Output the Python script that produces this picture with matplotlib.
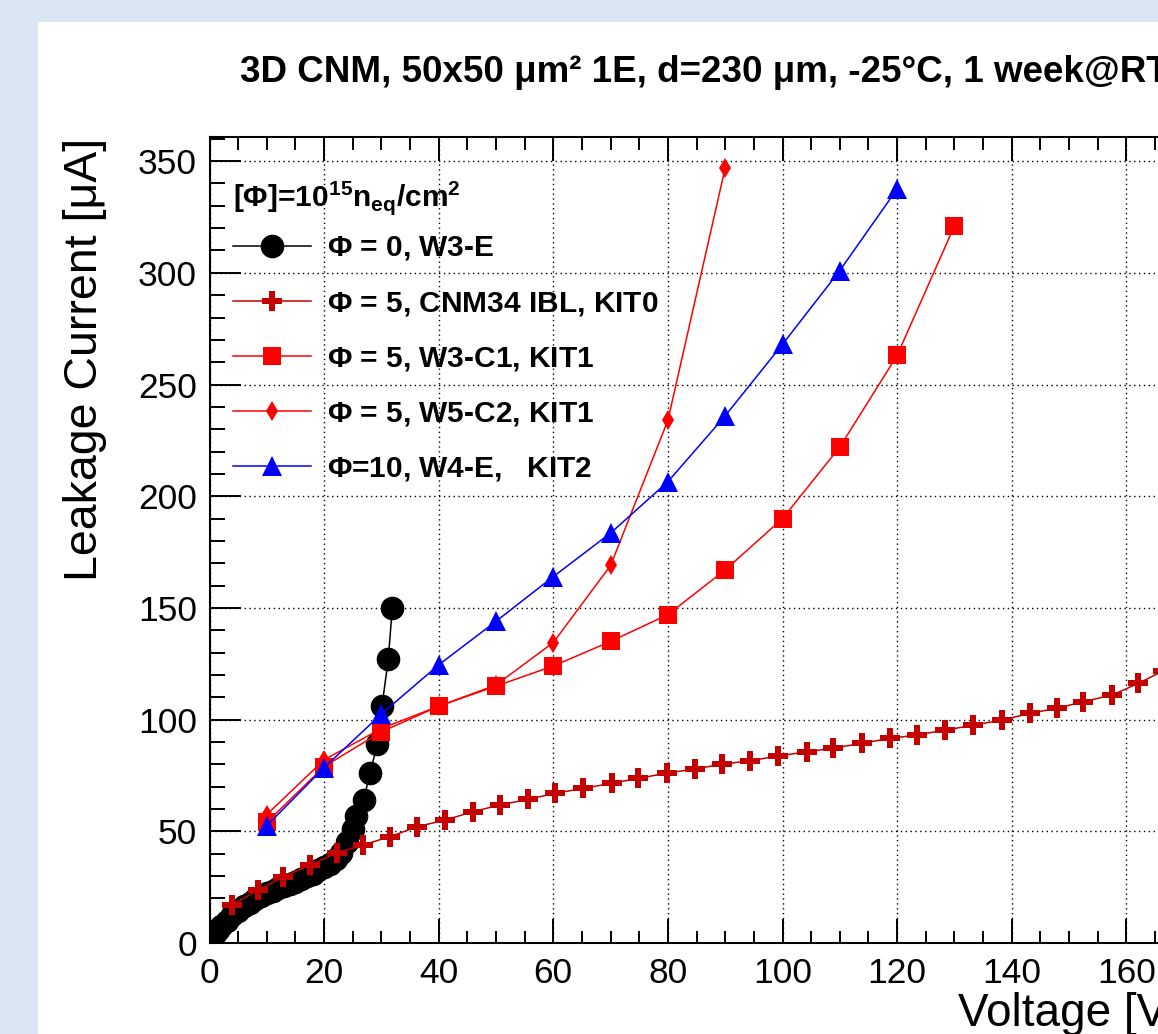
import numpy as np
import matplotlib
matplotlib.use("Agg")
import matplotlib.pyplot as plt
from matplotlib.patches import Rectangle

# Phi = 0, W3-E
v_w3e = [0, 0.5, 1, 1.5, 2, 3, 4, 5, 6, 7, 8, 9, 10, 11, 12, 13, 14, 15, 16,
         17, 18, 19, 20, 21, 22, 23, 24, 25, 25.6, 26.9, 28.0, 29.3, 30.1, 31.2, 31.9]
i_w3e = [0, 2, 4, 6, 7.5, 10, 12.5, 14.5, 16.5, 18, 19.5, 21, 22.5, 23.5, 24.5,
         25.5, 26.5, 27.5, 28.5, 30, 31, 32.5, 34, 35.5, 37.5, 40.5, 45, 51,
         57, 64, 76, 89, 106, 127, 150]

# Phi = 5, CNM34 IBL, KIT0
v_cnm34 = [3.9, 8.5, 12.9, 17.5, 22.2, 26.8, 31.5, 36.3, 41.1, 46.0, 50.7, 55.6,
           60.3, 65.2, 70.2, 74.8, 79.8, 84.7, 89.4, 94.3, 99.3, 104.2, 108.9,
           113.8, 118.8, 123.4, 128.4, 133.3, 138.3, 143.2, 147.9, 152.5, 157.5,
           162.1, 166.4]
i_cnm34 = [17.0, 23.7, 29.7, 34.9, 40.2, 43.9, 47.6, 52.1, 55.0, 58.8, 61.8, 64.3,
           67.0, 69.2, 71.5, 73.7, 76.0, 77.9, 80.0, 81.6, 83.7, 85.6, 87.2,
           89.4, 91.6, 93.1, 95.3, 97.5, 99.8, 102.8, 105.1, 108.0, 111.0,
           116.2, 121.8]

# Phi = 5, W3-C1, KIT1
v_w3c1 = [10, 20, 30, 40, 50, 60, 70, 80, 90, 100, 110, 120, 130]
i_w3c1 = [54, 79, 94.5, 106, 115, 124, 135, 147, 167, 190, 222, 263, 321]

# Phi = 5, W5-C2, KIT1
v_w5c2 = [10, 20, 30, 40, 50, 60, 70, 80, 90]
i_w5c2 = [57.5, 82, 96, 106, 115.5, 134.5, 169, 234, 347]

# Phi = 10, W4-E, KIT2
v_w4e = [10, 20, 30, 40, 50, 60, 70, 80, 90, 100, 110, 120]
i_w4e = [52.5, 78.5, 102.5, 124.5, 144, 164, 183.5, 206.5, 236, 268, 301, 337.5]

labels = [r"$\Phi$ = 0, W3-E", r"$\Phi$ = 5, CNM34 IBL, KIT0",
          r"$\Phi$ = 5, W3-C1, KIT1", r"$\Phi$ = 5, W5-C2, KIT1",
          r"$\Phi$=10, W4-E,   KIT2"]

plt.rcParams['font.family'] = ['Liberation Sans', 'DejaVu Sans']
plt.rcParams['mathtext.fontset'] = 'custom'
plt.rcParams['mathtext.rm'] = 'Liberation Sans:bold'
plt.rcParams['mathtext.it'] = 'Liberation Sans:bold'
plt.rcParams['mathtext.bf'] = 'Liberation Sans:bold'

W, H = 1158, 1034
fig = plt.figure(figsize=(W / 100, H / 100), dpi=100, facecolor='#dae6f3')
fig.patches.append(Rectangle((38 / W, 0), 1, 1 - 22 / H, transform=fig.transFigure,
                             facecolor='white', edgecolor='none', zorder=-5))

xmax, ymax = 175, 360.8
px_per_v = 5.73
ax = fig.add_axes([209.5 / W, (H - 943) / H, xmax * px_per_v / W, (943 - 137) / H])
ax.patch.set_alpha(0)

lw = 1.1
ax.plot(v_w3e, i_w3e, color='black', lw=lw, marker='o', ms=16, label=labels[0])
ax.plot(v_cnm34, i_cnm34, color='#c40000', lw=lw, marker='P', ms=14.5,
        markeredgewidth=0, label=labels[1])
ax.plot(v_w3c1, i_w3c1, color='red', lw=lw, marker='s', ms=13.5,
        markeredgewidth=0, label=labels[2])
ax.plot(v_w5c2, i_w5c2, color='red', lw=lw, marker='d', ms=10.5,
        markeredgewidth=0, label=labels[3])
ax.plot(v_w4e, i_w4e, color='blue', lw=lw, marker='^', ms=14.5,
        markeredgewidth=0, label=labels[4])

ax.set_xticks(np.arange(0, 176, 20))
ax.set_xticks(np.arange(0, 176, 5), minor=True)
ax.set_yticks(np.arange(0, 351, 50))
ax.set_yticks(np.arange(0, 361, 10), minor=True)
ax.set_xlim(0, xmax)
ax.set_ylim(0, ymax)
ax.grid(True, which='major', color='black', linestyle=(0, (1, 2.5)), linewidth=1.0)
ax.set_axisbelow(True)
for s in ax.spines.values():
    s.set_linewidth(1.5)
ax.tick_params(which='both', direction='in', top=True, right=True, width=1.4,
               labelsize=25.5)
ax.tick_params(axis='x', which='major', length=17, pad=10)
ax.tick_params(axis='x', which='minor', length=9)
ax.tick_params(axis='y', which='major', length=22, pad=9)
ax.tick_params(axis='y', which='minor', length=11)

leg = ax.legend(loc='upper left', bbox_to_anchor=(233 / W, 1 - 234 / H),
                bbox_transform=fig.transFigure, frameon=False,
                prop={'weight': 'bold', 'size': 21.5},
                borderpad=0, borderaxespad=0,
                handlelength=2.6, handletextpad=0.55, labelspacing=0.89)

# legend header
fig.text(233 / W, 1 - 198 / H, r"[$\Phi$]=10$^{15}$n$_{eq}$/cm$^{2}$",
         fontsize=21.5, fontweight='bold', ha='left', va='center')

fig.text(240 / W, 1 - 82 / H, "3D CNM, 50x50 μm² 1E, d=230 μm, -25°C, 1 week@RT",
         fontsize=26.5, fontweight='bold', ha='left', va='baseline')
fig.text(85 / W, 1 - 138 / H, "Leakage Current [μA]", fontsize=33.5,
         rotation=90, ha='center', va='top')
fig.text(958 / W, 1 - 1026 / H, "Voltage [V]", fontsize=33, ha='left', va='baseline')

fig.savefig("out.png", dpi=100, facecolor=fig.get_facecolor())
